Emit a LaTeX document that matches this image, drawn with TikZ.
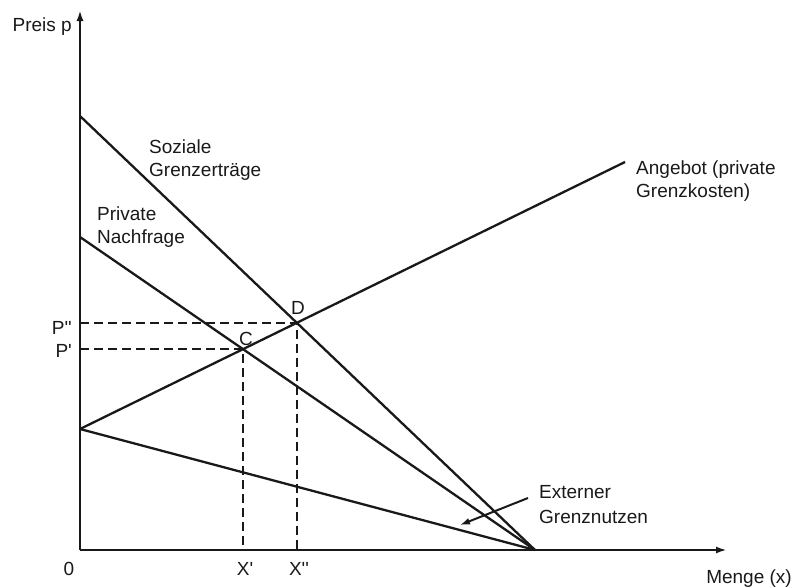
\documentclass[tikz,border=0pt]{standalone}
\usepackage{fontspec}
\setmainfont{Liberation Sans}
\usetikzlibrary{arrows.meta}
\newcommand{\tick}{\textquotesingle}
\tikzset{
  curve/.style={line width=2.3pt, color=black!90},
  axis/.style={line width=2.8pt, color=black!90, -{Latex[length=11pt, width=7pt]}},
  guide/.style={line width=2.3pt, color=black!90, dash pattern=on 9pt off 5pt},
  lbl/.style={inner sep=0pt, align=left, font=\fontsize{19}{23}\selectfont, text=black!90},
}
\begin{document}
\begin{tikzpicture}[x=1pt, y=-1pt]
  \useasboundingbox (0, 0) rectangle (795, 587);
  % axes
  \coordinate (o) at (80, 550);
  \coordinate (ytop) at (80, 10);
  \coordinate (xend) at (727, 550);
  \draw [axis] (o) -- (ytop);
  \draw [axis] (o) -- (xend);
  % curves
  \coordinate (soz) at (80, 116);
  \coordinate (priv) at (80, 237);
  \coordinate (ang) at (80, 429);
  \coordinate (angend) at (625, 162);
  \coordinate (q) at (535, 550);
  \draw [curve] (soz) -- (q);
  \draw [curve] (priv) -- (q);
  \draw [curve] (ang) -- (q);
  \draw [curve] (ang) -- (angend);
  \coordinate (D) at (intersection of soz--q and ang--angend);
  \coordinate (C) at (intersection of priv--q and ang--angend);
  % dashed guides
  \draw [guide] (o |- D) -- (D) -- (D |- o);
  \draw [guide] (o |- C) -- (C) -- (C |- o);
  % labels
  \node [lbl, anchor=north east] (preis) at (72, 18) {Preis p};
  \node [lbl, anchor=base east] (menge) at (792, 583) {Menge (x)};
  \node [lbl, anchor=north west] (sozlbl) at (149, 140) {Soziale\\Grenzerträge};
  \node [lbl, anchor=north west] (privlbl) at (97, 207) {Private\\Nachfrage};
  \node [lbl, anchor=north west] (anglbl) at (636, 161) {Angebot (private\\Grenzkosten)};
  \node [lbl, anchor=north west, font=\fontsize{19}{25}\selectfont] (extlbl) at (539, 485) {Externer\\Grenznutzen};
  \node [lbl, anchor=east] (pdd) at (72, 328) {P\tick\tick};
  \node [lbl, anchor=east] (pd) at (72, 351) {P\tick};
  \node [lbl, anchor=north] (null) at (69, 562) {0};
  \node [lbl, anchor=north] (xd) at (245, 562) {X\tick};
  \node [lbl, anchor=north] (xdd) at (299, 562) {X\tick\tick};
  \node [lbl] (clbl) at (246, 339) {C};
  \node [lbl] (dlbl) at (298, 308) {D};
  \draw [line width=2pt, color=black!90, -{Latex[length=10pt, width=7pt]}] (extlbl.west |- 0, 498) ++(-11, 0) coordinate (extstart) -- (460, 525) coordinate (extend);
\end{tikzpicture}
\end{document}
